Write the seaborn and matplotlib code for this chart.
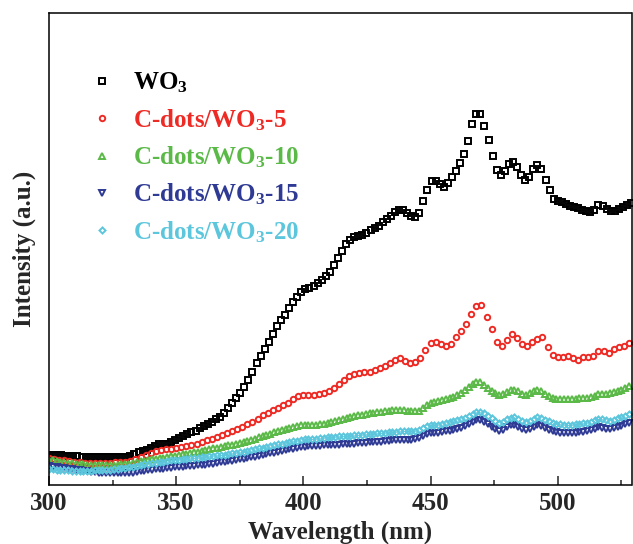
import numpy as np
import pandas as pd
import matplotlib
matplotlib.use("Agg")
import matplotlib.pyplot as plt
from matplotlib.ticker import MultipleLocator
import seaborn as sns

# ---------------- data ----------------
labels = ["WO$_3$", "C-dots/WO$_3$-5", "C-dots/WO$_3$-10",
          "C-dots/WO$_3$-15", "C-dots/WO$_3$-20"]
colors = ["#000000", "#EE2A24", "#5AB947", "#2E3A94", "#5CC6DC"]
markers = ["s", "o", "^", "v", "D"]
xticks = [300, 350, 400, 450, 500]

# wavelength grids (nm)
wl_wo3 = np.arange(144) * 1.6 + 300.0
wl_c5 = np.arange(115) * 2.0 + 300.0
wl_low = np.arange(153) * 1.5 + 300.0

wo3 = [
    30.5, 30.3, 30.0, 29.6, 29.4, 29.2, 29.0, 28.8, 28.5, 28.2,
    28.0, 27.9, 27.8, 27.7, 27.7, 27.7, 27.7, 27.7, 27.7, 27.8,
    29.5, 31.5, 33.0, 34.0, 35.0, 37.0, 39.0, 40.8, 41.0, 41.3,
    42.8, 45.0, 47.3, 49.2, 51.0, 52.6, 54.5, 56.6, 58.6, 60.8,
    63.5, 66.0, 68.5, 72.5, 77.0, 82.0, 87.0, 92.4, 97.6, 105.3,
    113.5, 121.8, 129.5, 136.3, 143.3, 151.0, 159.2, 165.0, 170.4, 177.0,
    182.6, 188.3, 193.0, 196.0, 197.5, 199.4, 201.8, 205.0, 209.3, 213.3,
    220.0, 227.0, 234.5, 241.0, 245.0, 248.2, 249.0, 250.1, 251.6, 254.7,
    256.7, 259.2, 263.3, 266.1, 268.8, 273.0, 275.0, 275.0, 272.3, 268.8,
    268.3, 272.5, 284.3, 295.5, 304.0, 304.3, 300.6, 298.0, 302.4, 307.6,
    314.2, 321.6, 331.0, 344.0, 361.5, 371.5, 371.0, 359.5, 345.5, 329.5,
    315.0, 310.5, 314.3, 320.6, 323.3, 318.3, 309.6, 304.6, 308.4, 315.7,
    319.8, 315.6, 305.3, 295.0, 285.7, 283.6, 282.6, 280.9, 279.2, 278.0,
    277.0, 275.0, 274.4, 273.5, 274.8, 280.3, 278.6, 276.2, 274.5, 274.3,
    276.3, 277.8, 280.5, 282.2,
]

c5 = [
    27.5, 26.5, 25.5, 24.8, 24.0, 23.3, 22.8, 22.5, 22.3, 22.2,
    22.2, 22.3, 22.5, 22.7, 23.0, 23.3, 24.5, 26.5, 28.5, 30.5,
    32.3, 34.0, 35.3, 36.0, 36.5, 37.5, 38.5, 39.5, 40.5, 41.5,
    43.0, 45.0, 46.5, 48.3, 50.0, 52.0, 54.0, 56.0, 58.5, 61.0,
    63.5, 66.5, 70.0, 72.5, 75.0, 77.5, 80.0, 82.5, 86.0, 89.0,
    90.0, 90.0, 90.0, 90.8, 91.8, 94.0, 97.0, 101.0, 105.5, 109.5,
    111.5, 112.5, 113.0, 113.3, 115.0, 116.7, 119.0, 122.0, 125.0, 127.5,
    124.3, 122.3, 123.0, 126.7, 135.5, 142.5, 142.8, 141.3, 139.2, 141.5,
    147.8, 154.3, 161.5, 171.5, 179.0, 180.0, 168.0, 156.5, 143.0, 139.0,
    145.5, 151.0, 147.0, 140.8, 139.5, 143.0, 146.2, 147.7, 138.5, 130.0,
    127.7, 127.7, 129.0, 126.7, 125.0, 127.7, 128.3, 129.5, 134.3, 133.8,
    132.5, 136.0, 137.8, 138.8, 142.5,
]

c10 = [
    25.5, 24.8, 24.0, 23.3, 22.8, 22.3, 21.8, 21.4, 21.0, 20.7,
    20.4, 20.2, 20.0, 20.0, 20.0, 20.0, 20.1, 20.3, 20.5, 20.7,
    21.0, 21.5, 22.3, 23.0, 23.7, 24.3, 25.0, 25.6, 26.2, 26.8,
    27.4, 28.0, 28.7, 29.3, 30.0, 30.6, 31.3, 32.0, 32.8, 33.5,
    34.2, 35.0, 35.8, 36.6, 37.4, 38.2, 39.0, 39.8, 40.5, 41.3,
    42.0, 43.0, 44.2, 45.3, 46.5, 47.8, 49.0, 50.2, 51.5, 52.8,
    54.0, 55.2, 56.3, 57.3, 58.3, 59.3, 60.0, 60.3, 60.3, 60.3,
    60.4, 60.8, 61.5, 62.3, 63.2, 64.0, 65.0, 66.0, 67.0, 68.0,
    69.0, 69.8, 70.3, 71.0, 71.6, 72.2, 72.8, 73.3, 73.8, 74.3,
    74.7, 75.0, 75.2, 75.0, 74.5, 74.0, 73.6, 74.5, 77.0, 80.0,
    82.0, 83.3, 84.3, 85.0, 86.0, 87.0, 88.5, 90.3, 92.5, 95.5,
    98.5, 101.5, 103.3, 102.8, 100.5, 97.5, 94.5, 92.0, 90.3, 91.3,
    93.5, 95.2, 95.5, 93.8, 91.2, 90.5, 92.0, 94.0, 95.0, 94.0,
    91.5, 89.2, 87.5, 86.3, 85.8, 86.0, 86.3, 86.5, 86.5, 86.6,
    86.8, 87.3, 88.0, 89.3, 91.0, 91.3, 91.0, 92.0, 93.0, 94.0,
    95.5, 97.3, 99.0,
]

c15 = [
    19.0, 18.4, 17.8, 17.2, 16.7, 16.2, 15.8, 15.2, 14.6, 14.1,
    13.6, 13.1, 12.7, 12.3, 12.0, 11.8, 11.7, 11.6, 11.6, 11.6,
    11.7, 11.9, 12.4, 13.0, 13.6, 14.2, 14.7, 15.2, 15.6, 16.0,
    16.4, 16.8, 17.3, 17.7, 18.0, 18.3, 18.6, 18.9, 19.2, 19.6,
    20.0, 20.5, 21.0, 21.5, 22.0, 22.6, 23.2, 23.8, 24.4, 25.0,
    25.6, 26.3, 27.0, 27.7, 28.5, 29.3, 30.0, 30.8, 31.6, 32.4,
    33.2, 34.0, 34.8, 35.6, 36.4, 37.1, 37.7, 38.2, 38.6, 38.9,
    39.2, 39.5, 39.7, 39.9, 40.1, 40.3, 40.5, 40.7, 40.9, 41.1,
    41.4, 41.7, 42.0, 42.3, 42.6, 42.9, 43.2, 43.5, 43.8, 44.2,
    44.6, 45.0, 45.3, 45.5, 45.3, 45.2, 45.8, 47.3, 49.3, 51.0,
    52.0, 52.3, 52.5, 53.0, 53.6, 54.3, 55.2, 56.3, 57.5, 59.0,
    61.0, 63.0, 64.6, 65.0, 63.5, 61.0, 58.5, 56.3, 54.5, 55.5,
    58.0, 59.6, 59.8, 58.3, 56.0, 55.0, 56.2, 58.3, 59.8, 59.2,
    57.0, 55.2, 54.0, 53.0, 52.3, 51.9, 51.8, 52.0, 52.4, 52.8,
    53.3, 53.8, 54.6, 55.8, 57.8, 57.5, 56.3, 56.0, 57.0, 58.3,
    59.5, 60.8, 62.0,
]

c20 = [
    15.8, 15.6, 15.3, 15.0, 14.8, 14.6, 14.4, 14.3, 14.3, 14.3,
    14.4, 14.5, 14.6, 14.7, 14.8, 15.0, 15.4, 15.8, 16.3, 16.8,
    17.3, 17.9, 18.5, 19.2, 19.9, 20.6, 21.3, 22.0, 22.5, 23.0,
    23.5, 24.1, 24.6, 25.1, 25.5, 25.9, 26.3, 26.7, 27.1, 27.5,
    27.9, 28.3, 28.7, 29.2, 29.6, 30.0, 30.5, 31.0, 31.6, 32.2,
    32.8, 33.5, 34.3, 35.0, 35.8, 36.6, 37.4, 38.2, 39.0, 39.8,
    40.6, 41.4, 42.2, 43.0, 43.8, 44.5, 45.2, 45.6, 45.8, 46.0,
    46.2, 46.6, 47.1, 47.6, 48.1, 48.5, 48.8, 49.0, 49.2, 49.4,
    49.7, 50.1, 50.5, 50.8, 51.1, 51.4, 51.7, 52.0, 52.3, 52.7,
    53.1, 53.5, 53.8, 54.0, 53.8, 53.6, 54.0, 55.5, 57.5, 59.0,
    59.8, 60.2, 60.5, 61.0, 61.8, 62.8, 63.8, 64.8, 66.0, 67.5,
    69.5, 71.5, 73.0, 73.5, 72.0, 69.5, 67.0, 64.5, 62.5, 63.5,
    65.8, 67.5, 67.8, 66.5, 64.5, 63.5, 64.5, 66.5, 68.0, 67.5,
    65.5, 63.8, 62.5, 61.5, 60.8, 60.3, 60.2, 60.3, 60.6, 61.0,
    61.6, 62.4, 63.4, 64.8, 66.5, 66.0, 64.8, 64.5, 65.5, 66.8,
    68.0, 69.5, 71.0,
]

series = [(wl_wo3, wo3), (wl_c5, c5), (wl_low, c10), (wl_low, c15), (wl_low, c20)]

# ---------------- style ----------------
sns.set_theme(style="ticks")
plt.rcParams["font.family"] = ["Liberation Serif", "DejaVu Serif"]
plt.rcParams["font.weight"] = "bold"
plt.rcParams["axes.labelweight"] = "bold"
plt.rcParams["mathtext.fontset"] = "custom"
plt.rcParams["mathtext.rm"] = "Liberation Serif:bold"
plt.rcParams["mathtext.bf"] = "Liberation Serif:bold"
plt.rcParams["mathtext.it"] = "Liberation Serif:bold"
plt.rcParams["mathtext.default"] = "rm"

fig = plt.figure(figsize=(6.33, 5.44), dpi=100)
ax = fig.add_axes([49 / 633, (544 - 485) / 544, (631.5 - 49) / 633, (485 - 13) / 544])

ms_list = [3.9, 3.9, 4.4, 4.4, 3.1]
for (x, y), lab, c, m, ms in zip(series, labels, colors, markers, ms_list):
    df = pd.DataFrame({"Wavelength": x, "Intensity": y})
    sns.lineplot(data=df, x="Wavelength", y="Intensity", ax=ax, color=c,
                 marker=m, linestyle="", markersize=ms,
                 markerfacecolor="none", markeredgecolor=c,
                 markeredgewidth=1.4, label=lab, errorbar=None, sort=False)

ax.set_xlim(300, 529)
ax.set_ylim(0, 472)
ax.set_xticks(xticks)
ax.set_xticklabels([str(t) for t in xticks])
ax.xaxis.set_minor_locator(MultipleLocator(25))
ax.set_yticks([])
ax.tick_params(axis="x", which="major", direction="in", length=6.5, width=1.1,
               labelsize=18, pad=5, top=False)
ax.tick_params(axis="x", which="minor", direction="in", length=3.6, width=1.1, top=False)
for sp in ax.spines.values():
    sp.set_linewidth(1.1)
    sp.set_color("black")

ax.set_xlabel("Wavelength (nm)", fontsize=18, fontweight="bold", labelpad=4)
ax.set_ylabel("Intensity (a.u.)", fontsize=18, fontweight="bold", labelpad=9)

leg = ax.legend(loc="upper left", bbox_to_anchor=(0.0738, 0.878), frameon=False,
                fontsize=18, handlelength=0.8, handletextpad=0.84,
                labelspacing=0.47, borderpad=0, borderaxespad=0, numpoints=1)
for txt, c in zip(leg.get_texts(), colors):
    txt.set_color(c)

fig.savefig("out.png", dpi=100)
